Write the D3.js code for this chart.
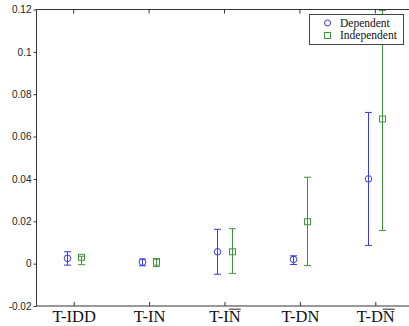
<!DOCTYPE html>
<html>
<head>
<meta charset="utf-8">
<script src="https://cdn.jsdelivr.net/npm/d3@7"></script>
<style>
  body { margin: 0; background: #fff; }
  svg { display: block; }
</style>
</head>
<body>
<div id="chart"></div>
<script>
// categories (overline flag marks the "N bar" labels)
var categories = ["T-IDD", "T-IN", "T-IN", "T-DN", "T-DN"];
var overlined = [false, false, true, false, true];

// Dependent series: mean and error bar ends
var depMean  = [0.0025, 0.0007, 0.0056, 0.0020, 0.0400];
var depLow   = [-0.0007, -0.0010, -0.0050, -0.0004, 0.0086];
var depHigh  = [0.0056, 0.0022, 0.0162, 0.0037, 0.0714];

// Independent series
var indMean  = [0.0030, 0.0007, 0.0056, 0.0198, 0.0683];
var indLow   = [-0.0005, -0.0014, -0.0046, -0.0009, 0.0157];
var indHigh  = [0.0035, 0.0024, 0.0165, 0.0408, 0.1195];

var yTicks = [-0.02, 0, 0.02, 0.04, 0.06, 0.08, 0.1, 0.12];
var yTickLabels = ["-0.02", "0", "0.02", "0.04", "0.06", "0.08", "0.1", "0.12"];

var blue = "#3a3aee", green = "#3c963c", axisColor = "#333";

var W = 409, H = 326;
var plotLeft = 36, plotTop = 9.5, plotBottom = 306;

var svg = d3.select("#chart").append("svg")
  .attr("width", W).attr("height", H);

var x = d3.scaleLinear().domain([0.5, 5.5]).range([plotLeft, 413]);
var y = d3.scaleLinear().domain([-0.02, 0.12]).range([plotBottom, plotTop]);

// frame: left, bottom, top lines
svg.append("path")
  .attr("d", "M" + (W + 5) + "," + plotTop + "H" + (plotLeft + 0.5) + "V" + plotBottom + "H" + (W + 5))
  .attr("fill", "none").attr("stroke", axisColor).attr("stroke-width", 1);

// y axis
var yAxis = svg.append("g")
  .attr("transform", "translate(" + (plotLeft + 0.5) + ",0)")
  .call(d3.axisLeft(y).tickValues(yTicks).tickSize(3).tickPadding(2)
    .tickFormat(function(d, i) { return yTickLabels[i]; }));
yAxis.select(".domain").remove();
yAxis.selectAll("line").attr("stroke", axisColor);
yAxis.selectAll("text")
  .attr("fill", "#222")
  .style("font-family", "'Liberation Sans', Arial, sans-serif")
  .style("font-size", "10px");

// x axis (ticks inside, mirrored on top)
var idx = d3.range(1, categories.length + 1);
var xAxis = svg.append("g")
  .attr("transform", "translate(0," + plotBottom + ")")
  .call(d3.axisBottom(x).tickValues(idx).tickSize(-4).tickPadding(4)
    .tickFormat(function(d) { return categories[d - 1]; }));
xAxis.select(".domain").remove();
xAxis.selectAll("line").attr("stroke", axisColor);
xAxis.selectAll("text")
  .attr("fill", "#111")
  .style("font-family", "'Liberation Serif', 'Times New Roman', serif")
  .style("font-size", "16.5px");

svg.append("g").selectAll("line")
  .data(idx).enter().append("line")
  .attr("x1", function(d) { return x(d); })
  .attr("x2", function(d) { return x(d); })
  .attr("y1", plotTop).attr("y2", plotTop + 4)
  .attr("stroke", axisColor);

// overline over the final N for the "N bar" labels
xAxis.selectAll(".tick").each(function(d) {
  if (!overlined[d - 1]) return;
  var t = d3.select(this).select("text").node();
  var label = categories[d - 1];
  var total = t.getComputedTextLength();
  var start = -total / 2 + t.getSubStringLength(0, label.length - 1);
  var nLen = t.getSubStringLength(label.length - 1, 1);
  var bb = t.getBBox();
  d3.select(this).append("line")
    .attr("x1", start).attr("x2", start + nLen)
    .attr("y1", bb.y + 2.5).attr("y2", bb.y + 2.5)
    .attr("stroke", "#555").attr("stroke-width", 1.3);
});

// error bars
var offset = 0.093;
var capW = 3.5;

function drawSeries(mean, low, high, dx, color, marker) {
  var g = svg.append("g");
  var pts = mean.map(function(m, i) {
    return { cx: x(i + 1 + dx), m: m, lo: low[i], hi: high[i] };
  });
  g.selectAll(".bar").data(pts).enter().append("path")
    .attr("fill", "none").attr("stroke", color).attr("stroke-width", 1)
    .attr("d", function(p) {
      var cx = Math.round(p.cx) + 0.5;
      var yl = y(p.lo), yh = y(p.hi);
      return "M" + cx + "," + yl + "V" + yh +
        "M" + (cx - capW) + "," + yh + "H" + (cx + capW) +
        "M" + (cx - capW) + "," + yl + "H" + (cx + capW);
    });
  if (marker === "circle") {
    g.selectAll(".mk").data(pts).enter().append("circle")
      .attr("cx", function(p) { return Math.round(p.cx) + 0.5; })
      .attr("cy", function(p) { return y(p.m); })
      .attr("r", 3.3)
      .attr("fill", "none").attr("stroke", color).attr("stroke-width", 1);
  } else {
    g.selectAll(".mk").data(pts).enter().append("rect")
      .attr("x", function(p) { return Math.round(p.cx) + 0.5 - 3; })
      .attr("y", function(p) { return y(p.m) - 3; })
      .attr("width", 6).attr("height", 6)
      .attr("fill", "none").attr("stroke", color).attr("stroke-width", 1);
  }
}

drawSeries(depMean, depLow, depHigh, -offset, blue, "circle");
drawSeries(indMean, indLow, indHigh, offset, green, "square");

// legend
var lg = svg.append("g").attr("transform", "translate(309.5,14.5)");
lg.append("rect")
  .attr("width", 94).attr("height", 30)
  .attr("fill", "#fff").attr("stroke", "#444").attr("stroke-width", 1);
lg.append("circle")
  .attr("cx", 18).attr("cy", 8.5).attr("r", 3)
  .attr("fill", "none").attr("stroke", blue);
lg.append("rect")
  .attr("x", 15).attr("y", 18).attr("width", 6).attr("height", 6)
  .attr("fill", "none").attr("stroke", green);
lg.selectAll(".lt").data(["Dependent", "Independent"]).enter().append("text")
  .attr("x", 30.5)
  .attr("y", function(d, i) { return 8.5 + i * 12.5; })
  .attr("dy", "0.33em")
  .attr("fill", "#111")
  .style("font-family", "'Liberation Serif', 'Times New Roman', serif")
  .style("font-size", "11.5px")
  .text(function(d) { return d; });
</script>
</body>
</html>
